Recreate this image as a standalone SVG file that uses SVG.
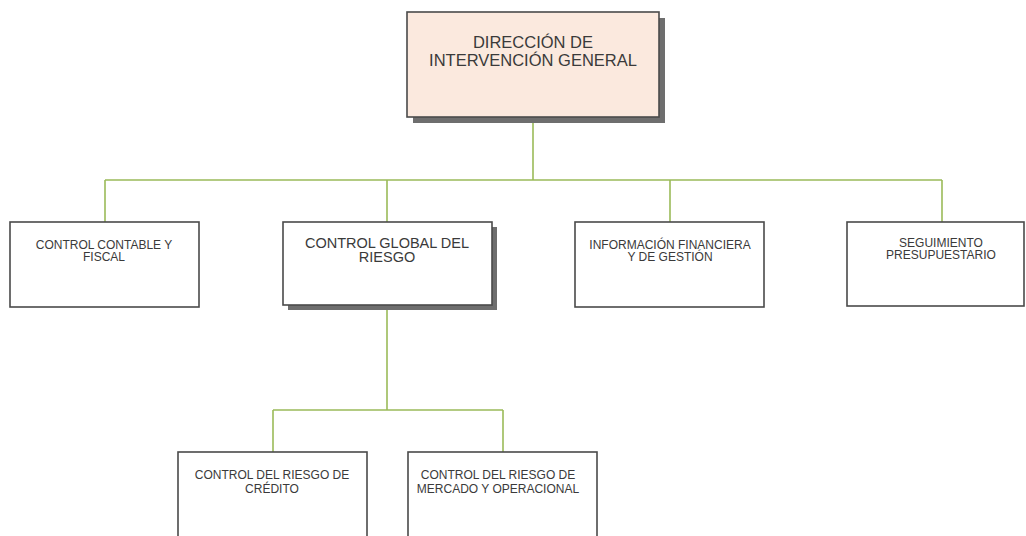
<svg xmlns="http://www.w3.org/2000/svg" width="1026" height="536" viewBox="0 0 1026 536">
<style>
.box{fill:#ffffff;stroke:#4a4a4a;stroke-width:1.6}
.top{fill:#fbe9de;stroke:#4a4a4a;stroke-width:1.6}
.sh{fill:#6e6e6e}
.t{font-family:"Liberation Sans",Arial,sans-serif;fill:#3a3a3a;text-anchor:middle}
.s{font-size:12px}
.m{font-size:14.5px}
.l{font-size:16.5px}
.c{fill:none;stroke:#9bbb59;stroke-width:1.6}
</style>
<rect width="1026" height="536" fill="#ffffff"/>
<g id="connectors">
<path class="c" d="M533 117V180M105 180H942M105 180V222M387 180V222M670 180V222M942 180V222"/>
<path class="c" d="M387 305V410M273 410H503M273 410V452M503 410V452"/>
</g>
<g id="n-direccion">
<rect class="sh" x="413" y="18" width="252" height="105"/>
<rect class="top" x="407" y="12" width="252" height="105"/>
<text class="t l" x="533" y="48">DIRECCIÓN DE</text>
<text class="t l" x="533" y="66">INTERVENCIÓN GENERAL</text>
</g>
<g id="n-contable">
<rect class="box" x="10" y="222" width="189" height="85"/>
<text class="t s" x="104" y="249">CONTROL CONTABLE Y</text>
<text class="t s" x="104" y="261">FISCAL</text>
</g>
<g id="n-global">
<rect class="sh" x="288" y="227" width="209" height="83"/>
<rect class="box" x="283" y="222" width="209" height="83"/>
<text class="t m" x="387" y="248">CONTROL GLOBAL DEL</text>
<text class="t m" x="387" y="262">RIESGO</text>
</g>
<g id="n-informacion">
<rect class="box" x="575" y="222" width="189" height="85"/>
<text class="t s" x="670" y="249">INFORMACIÓN FINANCIERA</text>
<text class="t s" x="670" y="261">Y DE GESTIÓN</text>
</g>
<g id="n-seguimiento">
<rect class="box" x="847" y="222" width="177" height="84"/>
<text class="t s" x="941" y="247">SEGUIMIENTO</text>
<text class="t s" x="941" y="259">PRESUPUESTARIO</text>
</g>
<g id="n-credito">
<rect class="box" x="178" y="452" width="189" height="90"/>
<text class="t s" x="272" y="479">CONTROL DEL RIESGO DE</text>
<text class="t s" x="272" y="493">CRÉDITO</text>
</g>
<g id="n-mercado">
<rect class="box" x="408" y="452" width="189" height="90"/>
<text class="t s" x="498" y="479">CONTROL DEL RIESGO DE</text>
<text class="t s" x="498" y="493">MERCADO Y OPERACIONAL</text>
</g>
</svg>
